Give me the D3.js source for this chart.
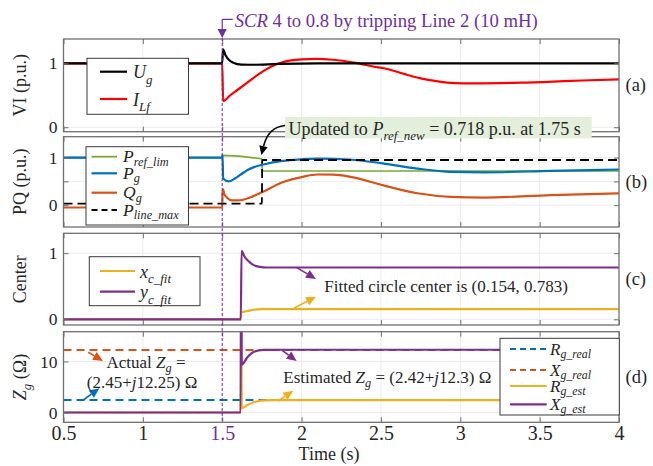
<!DOCTYPE html>
<html>
<head>
<meta charset="utf-8">
<script src="https://cdn.jsdelivr.net/npm/d3@7"></script>
<style>
  body { margin: 0; background: #fff; }
  svg { display: block; }
  text { font-family: "Liberation Serif", "Times New Roman", serif; white-space: pre; }
</style>
</head>
<body>
<svg id="chart" width="653" height="466"></svg>
<script>
// ---- time axis ----
const timeTicks = [0.5, 1, 1.5, 2, 2.5, 3, 3.5, 4];
const timeTickLabels = ["0.5", "1", "1.5", "2", "2.5", "3", "3.5", "4"];

// ---- (a) grid voltage and filter current magnitudes (p.u.) ----
const uG = [[0.5,1.0],[1.5,1.0],[1.505,1.22],[1.52,1.13],[1.54,1.06],[1.57,1.01],[1.62,0.98],[1.7,0.977],[1.85,0.99],[2.1,1.0],[4.0,1.0]];
const iLf = [[0.5,1.0],[1.5,1.0],[1.506,0.41],[1.55,0.5],[1.6,0.59],[1.66,0.70],[1.73,0.83],[1.81,0.95],[1.9,1.03],[2.0,1.06],[2.09,1.07],[2.2,1.055],[2.33,1.01],[2.45,0.95],[2.54,0.91],[2.65,0.83],[2.75,0.765],[2.85,0.72],[2.96,0.69],[3.1,0.686],[3.38,0.697],[3.7,0.725],[4.0,0.75]];

// ---- (b) active / reactive power (p.u.) ----
const pRefLim = [[0.5,1.0],[1.5,1.0],[1.503,1.045],[1.75,0.97],[1.752,0.718],[4.0,0.718]];
const pG = [[0.5,1.0],[1.5,1.0],[1.502,1.06],[1.506,0.56],[1.54,0.5],[1.58,0.56],[1.62,0.65],[1.66,0.74],[1.7,0.80],[1.76,0.855],[1.88,0.93],[2.0,0.965],[2.1,0.98],[2.3,0.96],[2.51,0.88],[2.73,0.77],[2.94,0.70],[3.15,0.69],[3.57,0.72],[4.0,0.75]];
const qG = [[0.5,-0.05],[1.5,-0.05],[1.502,0.25],[1.506,0.33],[1.512,0.24],[1.53,0.16],[1.56,0.1],[1.6,0.1],[1.675,0.16],[1.75,0.27],[1.88,0.48],[2.0,0.59],[2.1,0.645],[2.2,0.64],[2.3,0.6],[2.51,0.42],[2.73,0.25],[2.94,0.175],[3.15,0.16],[3.57,0.21],[4.0,0.25]];
const pLineMax = [[0.5,0.03],[1.75,0.03],[1.752,0.95],[4.0,0.95]];
const pRefNew = 0.718;

// ---- (c) fitted circle center ----
const xCFit = [[0.5,0],[1.617,0],[1.62,0.105],[1.66,0.125],[1.7,0.145],[1.75,0.154],[4.0,0.154]];
const yCFit = [[0.5,0],[1.617,0],[1.622,1.035],[1.64,0.95],[1.665,0.88],[1.69,0.83],[1.72,0.8],[1.76,0.786],[1.8,0.783],[4.0,0.783]];

// ---- (d) grid impedance (ohm) ----
const rgReal = [[0.5,2.45],[4.0,2.45]];
const xgReal = [[0.5,12.25],[4.0,12.25]];
const rgEst = [[0.5,0],[1.618,0],[1.62,30],[1.623,0.85],[1.66,1.5],[1.7,2.0],[1.76,2.36],[1.85,2.42],[4.0,2.42]];
const xgEst = [[0.5,0],[1.616,0],[1.619,40],[1.623,9.4],[1.66,10.9],[1.7,11.9],[1.76,12.28],[1.85,12.3],[4.0,12.3]];

// ---- y ticks per panel ----
const ticksA = [0, 1];
const ticksB = [0, 0.5, 1];
const labelsB = {"0": "0", "1": "1"};
const ticksC = [0, 1];
const ticksD = [0, 10];

const COL = {
  blue: "#0072BD", orange: "#D95319", yellow: "#EDB120", purple: "#7E2F8E",
  green: "#77AC30", red: "#FF0000", black: "#000000", note: "#7030A0",
  axis: "#262626", frame: "#707070", grid: "#ebebeb"
};

const svg = d3.select("#chart");
const x = d3.scaleLinear().domain([0.5, 4]).range([63.5, 619]);

const panels = [
  { id: "a", top: 39, bottom: 131.7, domain: [-0.07, 1.38], ticks: ticksA, fmt: d => String(d),
    title: [{t: "VI (p.u.)"}], tag: "(a)" },
  { id: "b", top: 136.7, bottom: 227, domain: [-0.46, 1.44], ticks: ticksB, fmt: d => labelsB[String(d)] || "",
    title: [{t: "PQ (p.u.)"}], tag: "(b)" },
  { id: "c", top: 233.3, bottom: 325, domain: [-0.086, 1.30], ticks: ticksC, fmt: d => String(d),
    title: [{t: "Center"}], tag: "(c)" },
  { id: "d", top: 331.7, bottom: 422.3, domain: [-1.92, 15.84], ticks: ticksD, fmt: d => String(d),
    title: [{t: "Z", it: true}, {t: "g", it: true, sub: true}, {t: " (Ω)"}], tag: "(d)" }
];
panels.forEach(p => { p.y = d3.scaleLinear().domain(p.domain).range([p.bottom, p.top]); });
const P = Object.fromEntries(panels.map(p => [p.id, p]));

// text with italic parts and subscripts
function richText(g, parts, o) {
  const t = g.append("text")
    .attr("x", o.x).attr("y", o.y)
    .attr("font-size", o.size)
    .attr("fill", o.fill || COL.axis)
    .attr("text-anchor", o.anchor || "start");
  if (o.transform) t.attr("transform", o.transform);
  const subScale = o.subScale || 0.72, subShift = o.subShift || 0.3;
  let shift = 0;
  parts.forEach(p => {
    const sz = p.sub ? o.size * subScale : o.size;
    const target = p.sub ? o.size * subShift : 0;
    const ts = t.append("tspan").text(p.t).attr("font-size", sz).attr("dy", target - shift);
    if (p.it) ts.attr("font-style", "italic");
    shift = target;
  });
  return t;
}

function arrow(g, x1, y1, x2, y2, color, len = 10, half = 4.5, w = 1.6) {
  const a = Math.atan2(y2 - y1, x2 - x1);
  const bx = x2 - len * Math.cos(a), by = y2 - len * Math.sin(a);
  g.append("line").attr("x1", x1).attr("y1", y1).attr("x2", bx).attr("y2", by)
    .attr("stroke", color).attr("stroke-width", w);
  const nx = -Math.sin(a) * half, ny = Math.cos(a) * half;
  g.append("path")
    .attr("d", `M${x2},${y2}L${bx + nx},${by + ny}L${bx - nx},${by - ny}Z`)
    .attr("fill", color);
}

const defs = svg.append("defs");

// ---- axes frames, grid, ticks ----
panels.forEach(p => {
  const g = svg.append("g").attr("class", "panel-" + p.id);
  p.g = g;
  defs.append("clipPath").attr("id", "clip-" + p.id)
    .append("rect").attr("x", x.range()[0]).attr("y", p.top)
    .attr("width", x.range()[1] - x.range()[0]).attr("height", p.bottom - p.top);

  g.append("rect").attr("x", x.range()[0]).attr("y", p.top)
    .attr("width", x.range()[1] - x.range()[0]).attr("height", p.bottom - p.top)
    .attr("fill", "#fff");

  // grid
  g.append("g").selectAll("line").data(timeTicks.slice(1, -1)).join("line")
    .attr("x1", d => x(d)).attr("x2", d => x(d)).attr("y1", p.top).attr("y2", p.bottom)
    .attr("stroke", COL.grid).attr("stroke-width", 1);
  g.append("g").selectAll("line").data(p.ticks).join("line")
    .attr("x1", x.range()[0]).attr("x2", x.range()[1]).attr("y1", d => p.y(d)).attr("y2", d => p.y(d))
    .attr("stroke", COL.grid).attr("stroke-width", 1);

  p.plot = g.append("g").attr("clip-path", `url(#clip-${p.id})`);
});

const line = ys => d3.line().x(d => x(d[0])).y(d => ys(d[1])).curve(d3.curveMonotoneX);

function series(p, data, color, width, dash) {
  const path = p.plot.append("path").datum(data)
    .attr("d", line(p.y))
    .attr("fill", "none").attr("stroke", color).attr("stroke-width", width)
    .attr("stroke-linejoin", "round");
  if (dash) path.attr("stroke-dasharray", dash);
}

// (a)
series(P.a, iLf, COL.red, 2.2);
series(P.a, uG, COL.black, 2.2);
// (b)
series(P.b, pRefLim, COL.green, 1.7);
series(P.b, pG, COL.blue, 2.2);
series(P.b, qG, COL.orange, 2.2);
series(P.b, pLineMax, COL.black, 1.8, "9,5");
// (c)
series(P.c, xCFit, COL.yellow, 2.2);
series(P.c, yCFit, COL.purple, 2.2);
// (d)
series(P.d, rgReal, COL.blue, 2, "8,5");
series(P.d, xgReal, COL.orange, 2, "8,5");
series(P.d, rgEst, COL.yellow, 2.2);
series(P.d, xgEst, COL.purple, 2.2);

// frames and tick marks on top of the data
panels.forEach((p, i) => {
  const g = p.g;
  const axStyle = size => sel => {
    sel.select(".domain").remove();
    sel.selectAll(".tick line").attr("stroke", COL.frame).attr("stroke-width", 1);
    sel.selectAll(".tick text").attr("font-family", '"Liberation Serif", serif')
      .attr("font-size", size).attr("fill", COL.axis);
  };
  g.append("g").attr("transform", `translate(0,${p.bottom})`)
    .call(d3.axisBottom(x).tickValues(timeTicks).tickSize(-5).tickPadding(3.5)
      .tickFormat((d, k) => i === panels.length - 1 ? timeTickLabels[k] : ""))
    .call(axStyle(20))
    .call(s => s.selectAll(".tick text").filter(d => d === 1.5).attr("fill", COL.note));
  g.append("g").attr("transform", `translate(0,${p.top})`)
    .call(d3.axisTop(x).tickValues(timeTicks).tickSize(-5).tickFormat(""))
    .call(axStyle(20));
  g.append("g").attr("transform", `translate(${x.range()[0]},0)`)
    .call(d3.axisLeft(p.y).tickValues(p.ticks).tickSize(-5).tickPadding(6).tickFormat(p.fmt))
    .call(axStyle(17.5));
  g.append("g").attr("transform", `translate(${x.range()[1]},0)`)
    .call(d3.axisRight(p.y).tickValues(p.ticks).tickSize(-5).tickFormat(""))
    .call(axStyle(17.5));

  g.append("rect").attr("x", x.range()[0]).attr("y", p.top)
    .attr("width", x.range()[1] - x.range()[0]).attr("height", p.bottom - p.top)
    .attr("fill", "none").attr("stroke", COL.frame).attr("stroke-width", 1.3);

  const mid = (p.top + p.bottom) / 2;
  richText(svg, p.title, { x: 0, y: 0, size: 18, anchor: "middle", transform: `translate(26,${mid}) rotate(-90)` });
  svg.append("text").attr("x", 625.5).attr("y", mid + 6).attr("font-size", 18.5).attr("fill", COL.axis).text(p.tag);
});

// x-axis title
svg.append("text").attr("x", 329).attr("y", 460)
  .attr("text-anchor", "middle").attr("font-size", 18).attr("fill", COL.axis).text("Time (s)");

// ---- legends ----
function legend(box, entries) {
  const g = svg.append("g");
  g.append("rect").attr("x", box.x).attr("y", box.y).attr("width", box.w).attr("height", box.h)
    .attr("fill", "#fff").attr("stroke", "#3a3a3a").attr("stroke-width", 1);
  entries.forEach(e => {
    const l = g.append("line").attr("x1", box.lx1).attr("x2", box.lx2).attr("y1", e.y).attr("y2", e.y)
      .attr("stroke", e.color).attr("stroke-width", e.w || 2.2);
    if (e.dash) l.attr("stroke-dasharray", e.dash);
    richText(g, e.label, { x: box.tx, y: e.y + (box.base || 6.5), size: box.size || 18,
      subScale: box.subScale || 0.72, subShift: box.subShift || 0.3 });
  });
}

legend({ x: 87, y: 58.3, w: 101.5, h: 56, lx1: 100, lx2: 127, tx: 133 }, [
  { y: 71.7, color: COL.black, label: [{t: "U", it: true}, {t: "g", it: true, sub: true}] },
  { y: 99, color: COL.red, label: [{t: "I", it: true}, {t: "Lf", it: true, sub: true}] }
]);
legend({ x: 86, y: 146.7, w: 102.5, h: 78.3, lx1: 91.5, lx2: 117, tx: 123, size: 17.5, subScale: 0.7, subShift: 0.2, base: 5.5 }, [
  { y: 156.7, color: COL.green, w: 1.8, label: [{t: "P", it: true}, {t: "ref_lim", it: true, sub: true}] },
  { y: 173.3, color: COL.blue, label: [{t: "P", it: true}, {t: "g", it: true, sub: true}] },
  { y: 192.7, color: COL.orange, label: [{t: "Q", it: true}, {t: "g", it: true, sub: true}] },
  { y: 210, color: COL.black, w: 1.8, dash: "6,4", label: [{t: "P", it: true}, {t: "line_max", it: true, sub: true}] }
]);
legend({ x: 89.3, y: 256.7, w: 110.7, h: 49, lx1: 100, lx2: 135, tx: 140 }, [
  { y: 271, color: COL.yellow, label: [{t: "x", it: true}, {t: "c_fit", it: true, sub: true}] },
  { y: 291.7, color: COL.purple, label: [{t: "y", it: true}, {t: "c_fit", it: true, sub: true}] }
]);
legend({ x: 500, y: 338.3, w: 119.3, h: 76.7, lx1: 510, lx2: 546.7, tx: 550, size: 17, subScale: 0.7, subShift: 0.2, base: 5.5 }, [
  { y: 349, color: COL.blue, dash: "6,4", w: 2, label: [{t: "R", it: true}, {t: "g_real", it: true, sub: true}] },
  { y: 370, color: COL.orange, dash: "6,4", w: 2, label: [{t: "X", it: true}, {t: "g_real", it: true, sub: true}] },
  { y: 386, color: COL.yellow, label: [{t: "R", it: true}, {t: "g_est", it: true, sub: true}] },
  { y: 404.3, color: COL.purple, label: [{t: "X", it: true}, {t: "g_est", it: true, sub: true}] }
]);

// ---- event marker: SCR step at t = 1.5 s ----
const tEvent = 1.5;
const ev = svg.append("g");
ev.append("line").attr("x1", x(tEvent)).attr("x2", x(tEvent)).attr("y1", 38).attr("y2", P.d.bottom)
  .attr("stroke", COL.note).attr("stroke-width", 1).attr("stroke-dasharray", "3,2");
ev.append("path")
  .attr("d", `M${x(tEvent)},19.3V30M${x(tEvent)},19.3H${x(tEvent) + 10.5}`)
  .attr("fill", "none").attr("stroke", COL.note).attr("stroke-width", 1.2);
ev.append("path")
  .attr("d", `M${x(tEvent)},38L${x(tEvent) - 4.6},29L${x(tEvent) + 4.6},29Z`)
  .attr("fill", COL.note);
richText(ev, [{t: "SCR", it: true}, {t: " 4 to 0.8 by tripping Line 2 (10 mH)"}],
  { x: x(tEvent) + 12.5, y: 26.5, size: 18.7, fill: COL.note });

// ---- (b) annotation: P_ref update at 1.75 s ----
const tUpdate = 1.75;
const nb = svg.append("g");
nb.append("rect").attr("x", x(1.896)).attr("y", 117).attr("width", x(3.828) - x(1.896)).attr("height", 21.3)
  .attr("fill", "#e3eedb");
richText(nb, [{t: "Updated to "}, {t: "P", it: true}, {t: "ref_new", it: true, sub: true},
  {t: " = " + pRefNew + " p.u. at " + tUpdate + " s"}],
  { x: x(1.917), y: 134.5, size: 18 });
{
  const sx = x(1.896), sy = 125.5, cx = x(1.79), cy = 127, tx = x(tUpdate) - 0.5, ty = 155;
  const a = Math.atan2(ty - cy, tx - cx);
  const len = 9, bx = tx - len * Math.cos(a), by = ty - len * Math.sin(a);
  nb.append("path").attr("d", `M${sx},${sy}Q${cx},${cy} ${bx},${by}`)
    .attr("fill", "none").attr("stroke", "#000").attr("stroke-width", 1.6);
  const nx = -Math.sin(a) * 4.3, ny = Math.cos(a) * 4.3;
  nb.append("path").attr("d", `M${tx},${ty}L${bx + nx},${by + ny}L${bx - nx},${by - ny}Z`).attr("fill", "#000");
}

// ---- (c) annotation ----
const nc = svg.append("g");
arrow(nc, x(1.969), P.c.y(0.782), x(2.091), P.c.y(0.61), COL.purple);
arrow(nc, x(1.952), P.c.y(0.167), x(2.091), P.c.y(0.342), COL.yellow);
nc.append("text").attr("x", x(2.143)).attr("y", 291.7).attr("font-size", 17).attr("fill", COL.axis)
  .text("Fitted circle center is (0.154, 0.783)");

// ---- (d) annotations ----
const nd = svg.append("g");
arrow(nd, x(0.656), P.d.y(11.8), x(0.749), P.d.y(10.1), COL.orange);
arrow(nd, x(0.625), P.d.y(2.45), x(0.726), P.d.y(4.75), COL.blue);
richText(nd, [{t: "Actual "}, {t: "Z", it: true}, {t: "g", it: true, sub: true}, {t: " ="}],
  { x: x(1.02), y: 368.3, size: 17, anchor: "middle", subShift: 0.22 });
richText(nd, [{t: "(2.45+"}, {t: "j", it: true}, {t: "12.25) Ω"}],
  { x: x(0.995), y: 388.3, size: 17, anchor: "middle" });
arrow(nd, x(1.875), P.d.y(12.25), x(1.969), P.d.y(10.1), COL.purple);
arrow(nd, x(1.853), P.d.y(2.25), x(1.948), P.d.y(4.27), COL.yellow);
richText(nd, [{t: "Estimated "}, {t: "Z", it: true}, {t: "g", it: true, sub: true}, {t: " = (2.42+"},
  {t: "j", it: true}, {t: "12.3) Ω"}],
  { x: x(1.885), y: 383.3, size: 17, subShift: 0.22 });
</script>
</body>
</html>
